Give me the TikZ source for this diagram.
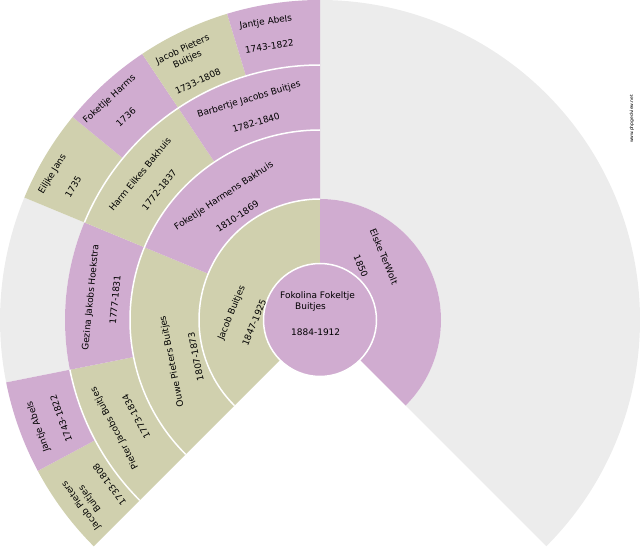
\documentclass[tikz,border=0pt]{standalone}
\usepackage{fontspec}
\setmainfont{DejaVu Sans}
\definecolor{famm}{HTML}{D0D0AE}
\definecolor{famf}{HTML}{D0ACD0}
\definecolor{famnone}{HTML}{ECECEC}
\newcommand{\fansector}[5]{%
  \fill[#1] (#2:#4) arc[start angle=#2,end angle=#3,radius=#4] -- (#3:#5) arc[start angle=#3,end angle=#2,radius=#5] -- cycle;}

\begin{document}
\begin{tikzpicture}
  [x=1pt,y=1pt,
   person/.style={font=\fontsize{9}{11}\selectfont,align=center,inner sep=0pt},
   sepline/.style={draw=white,line width=1.5pt}
  ]
  \useasboundingbox (0,0) rectangle (640,550);
  \begin{scope}[shift={(320,230)}]
  \fansector{famnone}{90}{-45}{121}{320}
  \fansector{famnone}{191.25}{157.5}{255}{320}
  % generation 1
  \fansector{famm}{225}{90}{56}{121}
  \fansector{famf}{90}{-45}{56}{121}
  % generation 2
  \fansector{famm}{225}{157.5}{121}{190}
  \fansector{famf}{157.5}{90}{121}{190}
  % generation 3
  \fansector{famm}{225}{191.25}{190}{255}
  \fansector{famf}{191.25}{157.5}{190}{255}
  \fansector{famm}{157.5}{123.75}{190}{255}
  \fansector{famf}{123.75}{90}{190}{255}
  % generation 4
  \fansector{famm}{225}{208.125}{255}{320}
  \fansector{famf}{208.125}{191.25}{255}{320}
  \fansector{famm}{157.5}{140.625}{255}{320}
  \fansector{famf}{140.625}{123.75}{255}{320}
  \fansector{famm}{123.75}{106.875}{255}{320}
  \fansector{famf}{106.875}{90}{255}{320}

  \draw[sepline] (225:121) arc[start angle=225,end angle=90,radius=121];
  \draw[sepline] (225:190) arc[start angle=225,end angle=90,radius=190];
  \draw[sepline] (225:255) arc[start angle=225,end angle=191.25,radius=255];
  \draw[sepline] (157.5:255) arc[start angle=157.5,end angle=90,radius=255];
  \draw[sepline,fill=famf] (0,0) circle[radius=56.5];

  \node[person,align=left] (root) at (-2.5,6)
    {Fokolina Fokeltje\\\hspace*{15pt}Buitjes\\[15pt]\hspace*{11pt}1884-1912};

  \node[person,rotate=67.5] (jacob) at (178.2:77.5) {Jacob Buitjes\\[14pt]1847-1925};
  \node[person,rotate=-67.5] (elske) at (48.1:78.6) {Elske TerWolt\\[14pt]1850};

  \node[person,rotate=101.25] (ouwe) at (196.0:142) {Ouwe Pieters Buitjes\\[14pt]1807-1873};
  \node[person,rotate=33.75] (foketljehb) at (128.1:145) {Foketlje Harmens Bakhuis\\[14pt]1810-1869};

  \node[person,rotate=118.125] (pieter) at (207.8:220.5) {Pieter Jacobs Buitjes\\[14pt]1773-1834};
  \node[person,rotate=84.375] (gezina) at (174.4:218.6) {Gezina Jakobs Hoekstra\\[14pt]1777-1831};
  \node[person,rotate=50.625] (harm) at (141.0:219.3) {Harm Eilkes Bakhuis\\[14pt]1772-1837};
  \node[person,rotate=16.875] (barbertje) at (107.9:220) {Barbertje Jacobs Buitjes\\[14pt]1782-1840};

  \node[person,rotate=126.5625] (jacobpb) at (217.9:285.2) {Jacob Pieters\\Buitjes\\[14pt]1733-1808};
  \node[person,rotate=109.6875] (jantjeb) at (200.8:289.6) {Jantje Abels\\[14pt]1743-1822};
  \node[person,rotate=59.0625] (eiljke) at (151.5:293.1) {Eiljke Jans\\[14pt]1735};
  \node[person,rotate=42.1875] (foketljeh) at (133.7:293.2) {Foketlje Harms\\[14pt]1736};
  \node[person,rotate=25.3125] (jacobpt) at (117.0:286) {Jacob Pieters\\Buitjes\\[14pt]1733-1808};
  \node[person,rotate=8.4375] (jantjet) at (100.4:290.8) {Jantje Abels\\[14pt]1743-1822};
  \end{scope}

  \node[font=\fontsize{4.5}{5}\selectfont,rotate=90,inner sep=0pt] (site) at (632,431) {www.phpgedview.net};
\end{tikzpicture}
\end{document}
